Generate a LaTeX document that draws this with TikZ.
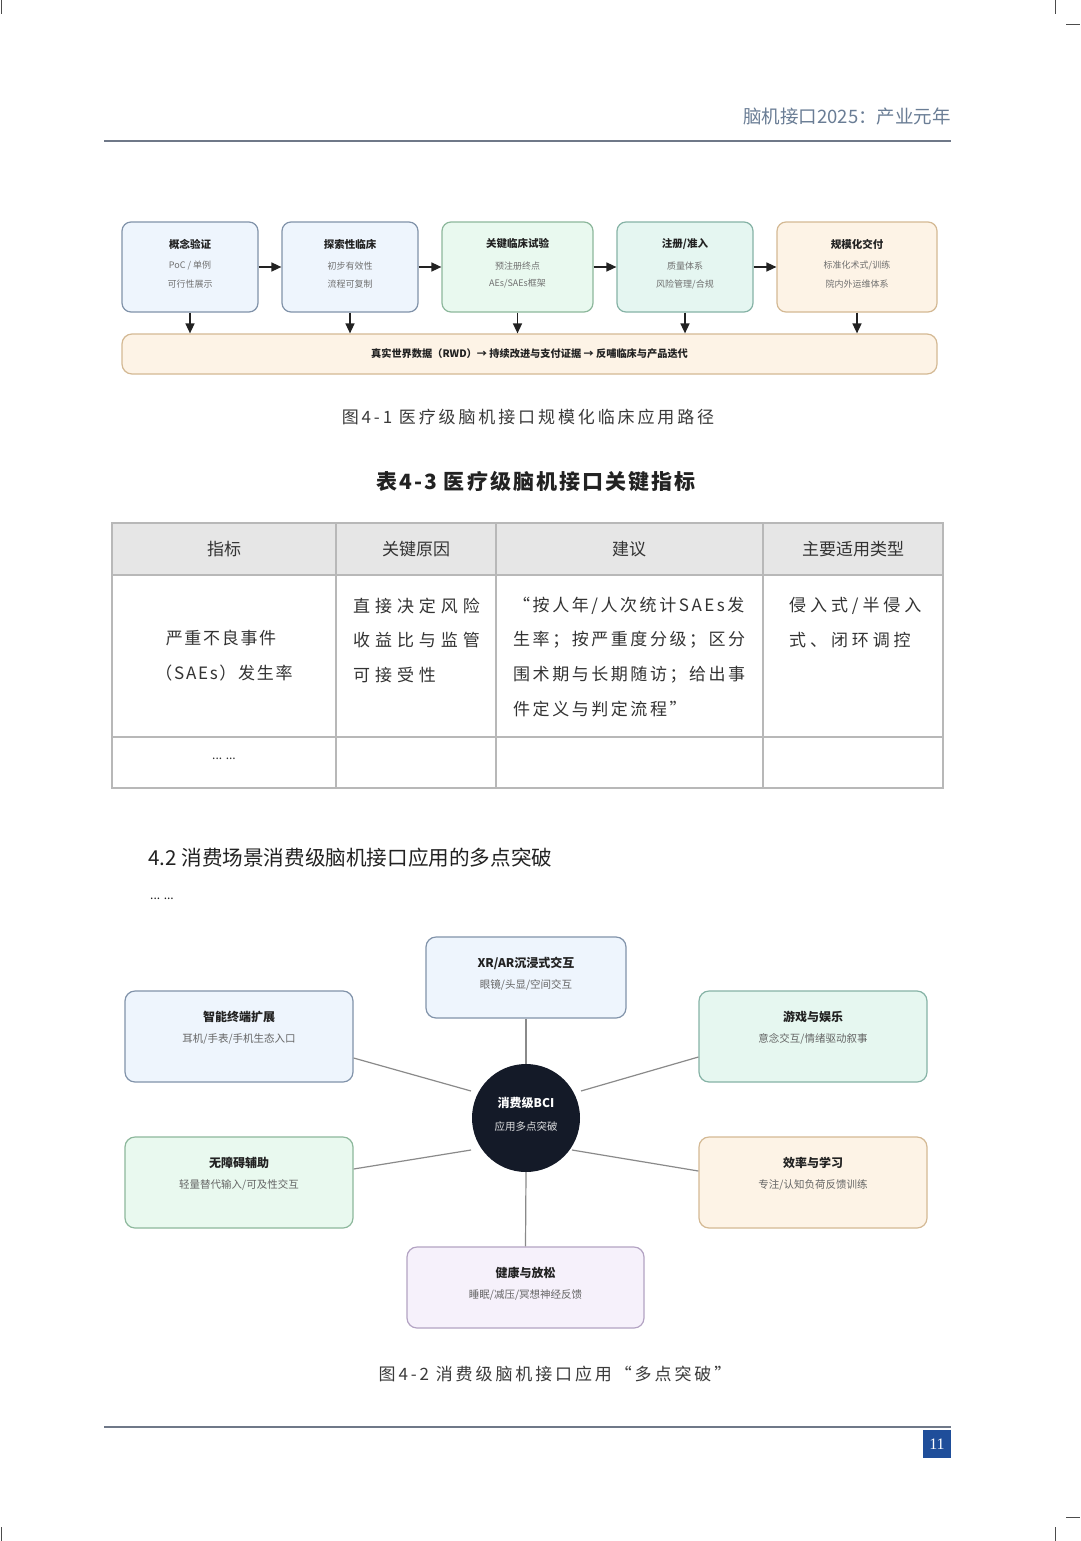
\documentclass[tikz,border=0pt]{standalone}
\usepackage{fontspec}
\setmainfont{Noto Sans CJK SC}
\newfontfamily\lsA[LetterSpace=10]{Noto Sans CJK SC}
\newfontfamily\lsB[LetterSpace=15]{Noto Sans CJK SC}
\newfontfamily\lsC[LetterSpace=23]{Noto Sans CJK SC}
\newfontfamily\lsD[LetterSpace=29]{Noto Sans CJK SC}
\newfontfamily\lsE[LetterSpace=17]{Noto Sans CJK SC}
\newfontfamily\pgserif{Liberation Serif}
\usetikzlibrary{arrows.meta,calc}
\definecolor{ink}{HTML}{222222}
\definecolor{subgray}{HTML}{707070}
\definecolor{txtgray}{HTML}{333333}
\definecolor{capgray}{HTML}{3A3A3A}
\definecolor{hdrblue}{HTML}{6A7D95}
\definecolor{ruleA}{HTML}{6F7888}
\definecolor{tline}{HTML}{B8B8B8}
\definecolor{hdrfill}{HTML}{E6E6E6}
\definecolor{conngray}{HTML}{8A8A8A}
\definecolor{pgblue}{HTML}{1F4E9A}
\definecolor{hubfill}{HTML}{141A28}
\definecolor{blueFill}{HTML}{EEF5FD}\definecolor{blueDraw}{HTML}{8193AA}
\definecolor{greenFill}{HTML}{E9F9EF}\definecolor{greenDraw}{HTML}{8DB89C}
\definecolor{tealFill}{HTML}{E5F6F1}\definecolor{tealDraw}{HTML}{86B3A6}
\definecolor{orangeFill}{HTML}{FDF3E6}\definecolor{orangeDraw}{HTML}{D4B994}
\definecolor{lavFill}{HTML}{F6F1FB}\definecolor{lavDraw}{HTML}{B3A3C3}
\newcommand\fs[1]{\fontsize{#1}{#1}\selectfont}
% name, x1, x2, fill, draw, title, line1, line2
\newcommand\flowbox[8]{%
  \node[box, fill=#4, draw=#5, minimum width={(#3-#2)*1pt}, minimum height=90pt] (#1) at ({(#2+#3)/2},267) {};
  \node[ttl] at ({(#2+#3)/2},244) {#6};
  \node[sub] at ({(#2+#3)/2},266) {#7};
  \node[sub] at ({(#2+#3)/2},284) {#8};
}
% name, x1, x2, y1, y2, fill, draw, title, line
\newcommand\rbox[9]{%
  \node[box, rounded corners=10pt, fill=#6, draw=#7, minimum width={(#3-#2)*1pt}, minimum height={(#5-#4)*1pt}] (#1) at ({(#2+#3)/2},{(#4+#5)/2}) {};
  \node[rttl] at ({(#2+#3)/2},{#4+26}) {#8};
  \node[rsub] at ({(#2+#3)/2},{#4+48}) {#9};
}
\begin{document}
\begin{tikzpicture}[x=1pt,y=-1pt,
  box/.style={draw, rounded corners=9pt, line width=1.2pt, inner sep=0pt},
  ttl/.style={font=\fs{10.5}\bfseries, text=ink, inner sep=0pt},
  sub/.style={font=\fs{9}, text=subgray, inner sep=0pt},
  rttl/.style={font=\fs{12}\bfseries, text=ink, inner sep=0pt},
  rsub/.style={font=\fs{10.5}, text=subgray!90!black, inner sep=0pt},
  arr/.style={line width=1.5pt, draw=ink, -{Triangle[length=10pt,width=9pt]}},
  conn/.style={line width=1.2pt, draw=conngray},
  tl/.style={draw=tline, line width=1.1pt},
  th/.style={font=\fs{17}, text=txtgray, inner sep=0pt},
  tb/.style={text=txtgray, inner sep=0pt, anchor=west},
  figcap/.style={font=\lsE\fs{17}, text=capgray, inner sep=0pt},
  crop/.style={draw=black!70, line width=0.8pt}]
\useasboundingbox (0,0) rectangle (1080,1541);
\fill[white] (0,0) rectangle (1080,1541);

% crop marks
\draw[crop] (1,0) -- (1,14);
\draw[crop] (1055,0) -- (1055,14);
\draw[crop] (1066,24) -- (1080,24);
\draw[crop] (1,1527) -- (1,1541);
\draw[crop] (1055,1527) -- (1055,1541);
\draw[crop] (1066,1517) -- (1080,1517);

% header
\node[anchor=east, inner sep=0pt, text=hdrblue, font=\fs{18.5}] (hdr) at (951,116) {脑机接口2025：产业元年};
\draw[ruleA, line width=2pt] (104,141) -- (951,141);

% ---------- Figure 4-1 ----------
\flowbox{b1}{122}{258}{blueFill}{blueDraw}{概念验证}{PoC / 单例}{可行性展示}
\flowbox{b2}{282}{418}{blueFill}{blueDraw}{探索性临床}{初步有效性}{流程可复制}
\flowbox{b3}{442}{593}{greenFill}{greenDraw}{关键临床试验}{预注册终点}{AEs/SAEs框架}
\flowbox{b4}{617}{753}{tealFill}{tealDraw}{注册/准入}{质量体系}{风险管理/合规}
\flowbox{b5}{777}{937}{orangeFill}{orangeDraw}{规模化交付}{标准化术式/训练}{院内外运维体系}

\node[box, rounded corners=10pt, fill=orangeFill, draw=orangeDraw, minimum width=815pt, minimum height=40pt] (rwd) at (529.5,354) {};
\node[ttl, font=\fs{10.2}\bfseries] at (529.5,354) {真实世界数据（RWD）→ 持续改进与支付证据 → 反哺临床与产品迭代};

\draw[arr] (b1.east) -- (b2.west);
\draw[arr] (b2.east) -- (b3.west);
\draw[arr] (b3.east) -- (b4.west);
\draw[arr] (b4.east) -- (b5.west);
\foreach \b in {b1,b2,b3,b4,b5}
  \draw[arr] (\b.south) -- (\b.south |- rwd.north);

\node[figcap] (cap1) at (528,417) {图4-1 医疗级脑机接口规模化临床应用路径};

% ---------- Table 4-3 ----------
\node[inner sep=0pt, text=ink, font=\lsA\fs{21}\bfseries] (ttitle) at (536,482) {表4-3 医疗级脑机接口关键指标};

\fill[hdrfill] (112,523) rectangle (943,575);
\draw[tl] (112,523) rectangle (943,788);
\draw[tl] (112,575) -- (943,575);
\draw[tl] (112,737) -- (943,737);
\draw[tl] (336,523) -- (336,788);
\draw[tl] (496,523) -- (496,788);
\draw[tl] (763,523) -- (763,788);

\node[th] at (224,549) {指标};
\node[th] at (416,549) {关键原因};
\node[th] at (629,549) {建议};
\node[th] at (853,549) {主要适用类型};

\node[th, font=\lsA\fs{17}] at (221,638) {严重不良事件};
\node[th, font=\lsA\fs{17}] at (224,673) {（SAEs）发生率};

\node[tb, font=\lsD\fs{17}] at (353,606) {直接决定风险};
\node[tb, font=\lsD\fs{17}] at (353,640) {收益比与监管};
\node[tb, font=\lsD\fs{17}] at (353,675) {可接受性};

\node[tb, font=\lsB\fs{17}] at (513,606) {“按人年/人次统计SAEs发};
\node[tb, font=\lsB\fs{17}] at (513,640) {生率；按严重度分级；区分};
\node[tb, font=\lsB\fs{17}] at (513,675) {围术期与长期随访；给出事};
\node[tb, font=\lsB\fs{17}] at (513,709) {件定义与判定流程”};

\node[tb, font=\lsC\fs{17}] at (789,606) {侵入式/半侵入};
\node[tb, font=\lsC\fs{17}] at (789,640) {式、闭环调控};

\node[th, font=\fs{12}] at (224,759) {... ...};

% ---------- Section 4.2 ----------
\node[anchor=west, inner sep=0pt, text=ink, font=\fs{20.6}] (sec) at (148,858) {4.2 消费场景消费级脑机接口应用的多点突破};
\node[anchor=west, inner sep=0pt, text=ink, font=\fs{12}] (dots) at (150,899) {... ...};

% ---------- Figure 4-2 ----------
\node[circle, fill=hubfill, minimum size=108pt, inner sep=0pt] (hub) at (526,1118) {};
\node[inner sep=0pt, text=white, font=\fs{12}\bfseries] at (526,1103) {消费级BCI};
\node[inner sep=0pt, text=white!85!hubfill, font=\fs{10.5}] at (526,1126) {应用多点突破};

\rbox{xr}{426}{626}{937}{1018}{blueFill}{blueDraw}{XR/AR沉浸式交互}{眼镜/头显/空间交互}
\rbox{smart}{125}{353}{991}{1082}{blueFill}{blueDraw}{智能终端扩展}{耳机/手表/手机生态入口}
\rbox{acc}{125}{353}{1137}{1228}{greenFill}{greenDraw}{无障碍辅助}{轻量替代输入/可及性交互}
\rbox{game}{699}{927}{991}{1082}{tealFill!70!greenFill}{tealDraw}{游戏与娱乐}{意念交互/情绪驱动叙事}
\rbox{eff}{699}{927}{1137}{1228}{orangeFill}{orangeDraw}{效率与学习}{专注/认知负荷反馈训练}
\rbox{health}{407}{644}{1247}{1328}{lavFill}{lavDraw}{健康与放松}{睡眠/减压/冥想神经反馈}

\draw[conn] (xr.south) -- (hub.north);
\draw[conn] (hub.south) -- (health.north);
\draw[conn] ([yshift=-21.5pt]smart.east) -- ($(hub.center)+(-55,-27)$);
\draw[conn] ([yshift=13.5pt]acc.east) -- ($(hub.center)+(-55,32)$);
\draw[conn] ($(hub.center)+(55,-27)$) -- ([yshift=-20.5pt]game.west);
\draw[conn] ($(hub.center)+(46,32)$) -- ([yshift=11.5pt]eff.west);

\node[figcap] (cap2) at (555,1374) {图4-2 消费级脑机接口应用“多点突破”};

% footer
\draw[ruleA, line width=2pt] (104,1427) -- (951,1427);
\node[fill=pgblue, text=white, minimum width=28pt, minimum height=28pt, inner sep=0pt, font=\pgserif\fs{16}] (pg) at (937,1444) {11};
\end{tikzpicture}
\end{document}
